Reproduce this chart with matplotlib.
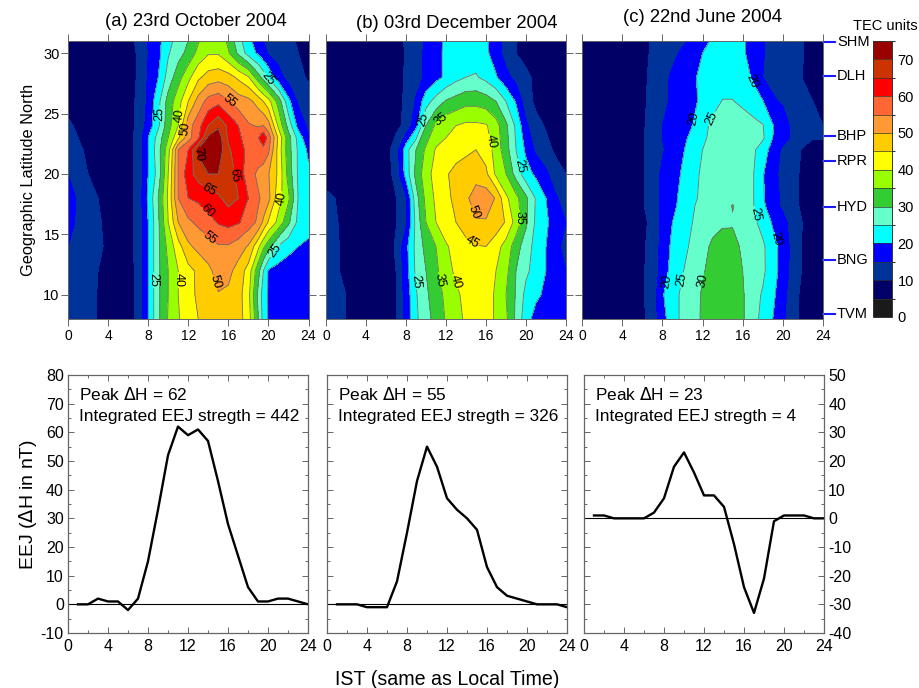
# TEC contour maps (top) and EEJ curves (bottom) for three days
import numpy as np
import matplotlib
matplotlib.use("Agg")
import matplotlib.pyplot as plt
from matplotlib.colors import ListedColormap, BoundaryNorm

plt.rcParams['font.family'] = ['Liberation Sans', 'DejaVu Sans']
plt.rcParams['axes.unicode_minus'] = False

# contour levels and colours
niveles = [0, 5, 10, 15, 20, 25, 30, 35, 40, 45, 50, 55, 60, 65, 70, 75]
colores = ['#1a1a1a', '#000066', '#003399', '#0000ff', '#00ffff', '#66ffcc', '#33cc33', '#99ff00',
           '#ffff00', '#ffcc00', '#ff9933', '#ff6633', '#ff0000', '#cc3300', '#990000']

# panel (a) 23 Oct 2004
horas_a = [0, 2, 4, 6, 7, 8, 9, 10, 11, 12, 13, 14, 15, 16, 17, 18, 19, 19.5, 20, 21, 22, 23, 24]
lat_a = [8, 10, 12, 14, 16, 18, 20, 22, 23, 24, 26, 28, 30, 31]
tec_a = [
    [13, 11.5, 8, 8, 11.2, 20, 29, 35.4, 39.6, 42.4, 45, 47, 48, 48, 47, 42.5, 30, 23, 19.5, 17.5, 17, 16.5, 16],
    [13.5, 11.5, 8, 8, 11.2, 20, 29, 35, 40, 43, 46, 48, 49.7, 49, 47, 41.5, 28.5, 22.5, 19.5, 17.5, 17, 16.5, 16],
    [14, 12, 8, 8, 11.2, 20, 29, 35, 40, 43.5, 46, 48.8, 52, 51.5, 48, 43, 31.5, 25, 19.5, 18, 17.5, 17.5, 17],
    [15, 13, 9, 8.5, 11.5, 20, 29, 36.5, 43, 49, 51.5, 53, 54.5, 54.5, 52.5, 49.5, 41, 36, 32, 24.5, 21.5, 20, 19],
    [16.5, 12, 9, 8.5, 11.5, 20, 29, 40, 50, 54, 56, 58, 60.5, 61.5, 60.5, 57.5, 54, 49, 44.5, 38.5, 31, 23.5, 22],
    [17.5, 11, 9, 8.5, 11.5, 21, 30, 41, 55, 60, 61, 62.5, 64, 67, 65, 60, 55.5, 54, 51.5, 42, 36, 24.5, 23],
    [15, 10, 9, 8.5, 11.5, 20, 27, 40, 55, 63, 67, 70, 70, 67.5, 63.5, 57, 54, 52.5, 50.3, 44, 33, 24, 21],
    [13, 9, 8.5, 8.5, 11.5, 20, 28, 38, 55, 60, 71, 74, 73, 66, 61.5, 59, 58, 58.5, 56, 43, 32, 24, 19],
    [11, 9, 8.5, 8.5, 11.5, 20, 27, 35, 44, 53, 59, 71, 73, 64, 61, 57.5, 60, 64, 58, 44, 32, 23, 15.5],
    [10.5, 8.5, 8, 8, 11, 17, 24, 33, 40, 53, 58, 65, 69, 64, 60, 55.5, 54.5, 55, 52, 39, 28, 18, 14],
    [9, 8, 8, 8, 11, 16, 23.5, 32, 38, 45, 52, 57, 58.5, 55.5, 52.5, 51.5, 48, 45, 42, 33, 21.5, 14, 12],
    [8, 8, 8, 8, 10.5, 15.5, 20, 27, 33, 38.5, 44, 47, 48, 47, 44, 40.5, 32, 28, 24, 17, 13, 11, 9.5],
    [8, 8, 8, 8, 10.5, 15, 18.5, 24.5, 28, 31.5, 36.5, 39.5, 39.5, 35.5, 29, 23, 19, 16.5, 14.5, 13, 11.5, 10, 7],
    [8, 8, 8, 8.5, 11, 15.3, 18.6, 23.3, 27, 30, 34.5, 39, 38.5, 34, 27, 21.5, 17, 15, 14.3, 13, 11, 9.5, 7],
]

# panel (b) 03 Dec 2004
horas_b = [0, 2, 4, 6, 7, 8, 9, 10, 11, 12, 13, 14, 15, 16, 17, 18, 19, 20, 21, 22, 23, 24]
lat_b = [8, 10, 12, 14, 16, 18, 20, 22, 24, 26, 28, 30, 31]
tec_b = [
    [12, 10, 8, 8, 10, 17, 24, 28.5, 31.5, 35.5, 38, 41, 42, 43, 39, 36, 29, 22, 18, 17, 16.5, 16],
    [12, 10, 8, 8, 10, 17, 24.5, 29, 33, 36, 39, 41.5, 43, 43, 39, 35, 29.5, 23.5, 21, 19, 18, 17],
    [11, 9.5, 8, 8, 10, 18, 26, 30, 34, 38, 41, 43, 44, 43, 40, 36.5, 30, 26, 23, 20, 17.5, 15],
    [11, 9.5, 8, 8, 10.5, 18.5, 26.5, 31.5, 35, 39.5, 41.5, 43.5, 44.7, 45, 42, 38, 32.5, 27, 23.5, 20, 16.5, 13],
    [11.5, 9, 8, 8, 9.8, 14, 26.5, 35, 40, 42.5, 45, 47.5, 49.5, 49.5, 48, 44.5, 38, 31, 24, 21, 17, 15],
    [11, 8.8, 8, 8, 9.8, 14.5, 28, 36.5, 41, 44, 46, 49, 52.5, 53, 49.5, 41, 36.5, 31, 24.5, 20, 15.5, 13],
    [8, 8, 8, 8, 11.5, 22, 31.5, 38, 42, 44.5, 46.5, 47.5, 48, 46, 39, 35, 28, 22, 19, 16, 12, 10],
    [8, 8, 8, 8.5, 12, 23, 30, 36, 40.5, 41.5, 43, 44, 45, 43, 38, 32, 25, 19, 14, 11.5, 9, 8],
    [8, 8, 8, 8, 9, 11, 18.5, 30, 36, 38.5, 40, 41, 41, 40.5, 37, 31, 24, 16, 11.5, 9.5, 8, 8],
    [8, 8, 8, 8, 9, 10.5, 15.5, 23, 27, 30.5, 32, 33.5, 33.5, 32.5, 30, 25, 19.5, 12, 9, 8, 8, 8],
    [8, 8, 8, 8, 9, 10.3, 13, 16, 18.5, 21, 23.5, 25, 25.5, 23.5, 20.5, 16.5, 13.5, 11, 9, 8, 8, 8],
    [8, 8, 8, 8, 9, 10.2, 13, 16, 18.5, 21, 22, 23, 22.5, 21, 17.5, 13, 10, 8.5, 8, 8, 8, 8],
    [8, 8, 8, 8, 9, 10.3, 13, 15.5, 19, 20.5, 21.5, 22, 22, 20.8, 17, 13, 10.2, 8.5, 8, 8, 8, 8],
]

# panel (c) 22 Jun 2004
horas_c = [0, 2, 4, 6, 7, 8, 9, 10, 11, 12, 13, 14, 15, 16, 17, 18, 19, 20, 21, 22, 23, 24]
lat_c = [8, 10, 12, 14, 16, 17.4, 18, 20, 22, 23, 24, 26, 28, 30, 31]
tec_c = [
    [8, 8, 8, 9, 12, 18, 23, 26, 28.5, 30.5, 31.5, 32, 31.5, 30.5, 27, 23.5, 20, 16, 11.5, 9, 8, 8],
    [8, 8, 8, 9.5, 12, 19.5, 23, 26, 28, 30.5, 31.5, 32, 31.5, 30.5, 27, 24.5, 21, 17, 11.5, 9, 8, 8],
    [8, 8, 8, 9.5, 11.5, 17, 22, 24.7, 27, 29.5, 31.5, 32.5, 31.5, 30, 28, 26, 22, 18, 13, 9.5, 8, 8],
    [8, 8, 8, 9.5, 11, 17, 21, 23.5, 26, 28.5, 30.8, 31.5, 31, 29.5, 28, 26, 21.5, 18.5, 13, 9.5, 8, 8],
    [8, 8, 8, 9, 11, 16.5, 20, 22.5, 25, 27, 28.5, 29.5, 29.7, 29, 26.5, 23, 19.5, 16.5, 13, 9.8, 8, 8],
    [8, 8, 8, 9.5, 12, 16, 19.2, 21, 24.5, 26.5, 27.5, 28, 30.2, 28, 25.5, 21, 17, 14, 11.5, 9, 8, 8],
    [8, 8, 8, 9.5, 12, 16, 19, 21, 24, 26, 27, 27.5, 28, 27.5, 25.5, 20.5, 17, 14, 11.5, 9, 8, 8],
    [8, 8, 8, 9.5, 12, 16, 18, 20.5, 24, 25.5, 27, 27, 27.5, 27, 25.5, 20.5, 16, 14, 11.5, 9, 8, 8],
    [8, 8, 8, 9.5, 11.5, 14.5, 17, 19.5, 22, 25, 26.5, 27.5, 28, 27.5, 26, 22.5, 18, 14, 12, 9.5, 8, 8],
    [8, 8, 8, 9.5, 11.5, 15, 17, 19, 21, 23.5, 27, 27.5, 28, 28, 27, 25.8, 20, 17, 14, 12, 10.3, 10.3],
    [8, 8, 8, 9.5, 11.3, 15, 17, 18.5, 20, 23.5, 26, 27, 27.5, 27.5, 26.8, 25.3, 20.3, 17, 14, 12.5, 11, 10],
    [8, 8, 8, 9.3, 11, 13.5, 16, 17.5, 19, 21, 23.5, 25.2, 25.2, 24, 22, 20.3, 15.5, 14.5, 13, 11.5, 10, 8],
    [8, 8, 8, 9, 11, 13, 16, 17.5, 19.3, 21, 22.5, 23, 23, 22, 19.5, 15, 14, 13, 12, 9.8, 8, 8],
    [8, 8, 8, 8.5, 10.7, 12, 13.5, 16, 18, 20, 21.5, 22, 22, 20.8, 18, 15.2, 14, 13, 12, 10.2, 8, 8],
    [8, 8, 8, 8.5, 10.5, 11.5, 12.5, 14, 16, 18, 20.8, 22, 22, 20.8, 18, 15.2, 14, 13, 12, 10.2, 8, 8],
]

titulos = ['(a) 23rd October 2004', '(b) 03rd December 2004', '(c) 22nd June 2004']

# stations on the right of panel (c)
estaciones = ['SHM', 'DLH', 'BHP', 'RPR', 'HYD', 'BNG', 'TVM']
lat_estaciones = [30.9, 28.1, 23.1, 21.1, 17.3, 12.9, 8.4]

# EEJ curves, hourly from 1 to 24 IST
ist = list(range(1, 25))
eej_a = [0, 0, 2, 1, 1, -2, 2, 15, 33, 52, 62, 59, 61, 57, 43, 28, 17, 6, 1, 1, 2, 2, 1, 0]
eej_b = [0, 0, 0, -1, -1, -1, 8, 25, 43, 55, 48, 37, 33, 30, 26, 13, 6, 3, 2, 1, 0, 0, 0, -1]
eej_c = [1, 1, 0, 0, 0, 0, 2, 7, 18, 23, 16, 8, 8, 4, -9, -24, -33, -21, -1, 1, 1, 1, 0, 0]
textos = [('Peak $\\Delta$H = 62', 'Integrated EEJ stregth = 442'),
          ('Peak $\\Delta$H = 55', 'Integrated EEJ stregth = 326'),
          ('Peak $\\Delta$H = 23', 'Integrated EEJ stregth = 4')]

# where the contour labels go (hour, latitude)
etiquetas_a = {25: [(9.2, 25), (19.9, 27.85), (8.6, 11.2), (20.4, 13.8)],
               40: [(11.2, 24.8), (20.9, 18), (10.9, 11.2)],
               50: [(11.9, 23.7), (14.9, 11.1)],
               55: [(16, 25.9), (14.4, 14.9)],
               60: [(13.6, 16.7)],
               65: [(14, 18.6), (16.6, 19.9)],
               70: [(12.7, 21.6)]}
etiquetas_b = {25: [(9.8, 24.5), (19.1, 20.6), (9, 11.1)],
               35: [(11.8, 24.2), (19.5, 16.4), (11.1, 11.2)],
               40: [(16.6, 22.7), (13, 11.1)],
               45: [(14.7, 14.4)],
               50: [(14.7, 16.8)]}
etiquetas_c = {20: [(17, 27.7), (11.1, 24.6), (19.3, 14.6), (8.6, 11.1)],
               25: [(12.9, 24.6), (17.3, 16.7), (10.1, 11.2)],
               30: [(12.1, 11.2)]}

ANCHO, ALTO = 919, 688
GRIS = '#666666'


def caja(x0, y0, x1, y1):
    # pixel box (y from the top) to figure fractions
    return [x0 / ANCHO, 1 - y1 / ALTO, (x1 - x0) / ANCHO, (y1 - y0) / ALTO]


fig = plt.figure(figsize=(ANCHO / 100, ALTO / 100), dpi=100)
cmap = ListedColormap(colores)
norm = BoundaryNorm(niveles, cmap.N)

cajas_mapa = [(68, 41, 308.5, 319), (326, 41, 566, 319), (582, 41, 823, 319)]
datos_mapa = [(horas_a, lat_a, tec_a, etiquetas_a), (horas_b, lat_b, tec_b, etiquetas_b),
              (horas_c, lat_c, tec_c, etiquetas_c)]
# the three titles do not sit at the same height in the original
sitio_titulo = [(196, 21), (456.5, 24), (702.5, 18)]

relleno = None
for i in range(3):
    ax = fig.add_axes(caja(*cajas_mapa[i]))
    horas, lats, tec, etiquetas = datos_mapa[i]
    relleno = ax.contourf(horas, lats, np.array(tec), levels=niveles, cmap=cmap, norm=norm)
    # one contour set per level, clabel only behaves with a single level at a time
    for nivel in niveles[4:]:
        if np.max(tec) <= nivel:
            continue
        linea = ax.contour(horas, lats, np.array(tec), levels=[nivel], colors='#707070', linewidths=0.6)
        if nivel in etiquetas:
            ax.clabel(linea, manual=etiquetas[nivel], fmt='%d', fontsize=9, inline=True,
                      inline_spacing=1, colors='black')
    ax.set_xlim(0, 24)
    ax.set_ylim(8, 31)
    ax.set_xticks(range(0, 25, 4))
    ax.set_yticks([10, 15, 20, 25, 30])
    ax.tick_params(axis='x', top=True, bottom=True, direction='out', length=5, width=0.7, color=GRIS,
                   labelsize=10, pad=2)
    ax.tick_params(axis='y', left=True, right=(i < 2), direction='out', length=5, width=0.7, color=GRIS,
                   labelsize=10.5, labelleft=(i == 0), pad=1)
    for lado in ax.spines.values():
        lado.set_linewidth(0.7)
        lado.set_color(GRIS)
    fig.text(sitio_titulo[i][0] / ANCHO, 1 - sitio_titulo[i][1] / ALTO, titulos[i], fontsize=13.3,
             ha='center', va='center')
    if i == 0:
        ax.set_ylabel('Geographic Latitude North', fontsize=11.8, labelpad=5)
    if i == 2:
        for nombre, lat in zip(estaciones, lat_estaciones):
            ax.plot([24, 25.15], [lat, lat], color='#1a1aff', lw=1.5, clip_on=False)
            ax.text(25.4, lat, nombre, fontsize=10.5, va='center', ha='left')

# colour bar
cax = fig.add_axes(caja(873, 41, 892, 317))
barra = fig.colorbar(relleno, cax=cax, ticks=list(range(0, 71, 10)), drawedges=True)
barra.ax.tick_params(length=0, labelsize=10.5, pad=4)
barra.outline.set_linewidth(0.7)
barra.outline.set_edgecolor('#333333')
barra.dividers.set_linewidth(0.5)
barra.dividers.set_color('#333333')
fig.text(885 / ANCHO, 1 - 26 / ALTO, 'TEC units', fontsize=10.5, ha='center', va='center')

# bottom row
cajas_eej = [(68, 375, 308, 633), (327, 375, 567, 633), (584, 375, 824, 633)]
series = [eej_a, eej_b, eej_c]
limites = [(-10, 80), (-10, 80), (-40, 50)]

for i in range(3):
    ax = fig.add_axes(caja(*cajas_eej[i]))
    ax.axhline(0, color='black', lw=0.8)
    ax.plot(ist, series[i], color='black', lw=1.7)
    ax.set_xlim(0, 24)
    ax.set_ylim(*limites[i])
    ax.set_xticks(range(0, 25, 4))
    ax.set_xticks(range(0, 25, 2), minor=True)
    ax.set_yticks(range(limites[i][0], limites[i][1] + 1, 10))
    ax.set_yticks(range(limites[i][0], limites[i][1] + 1, 5), minor=True)
    ax.tick_params(which='major', direction='in', top=True, right=True, length=4, width=0.7, color=GRIS,
                   labelsize=11.5, pad=4)
    ax.tick_params(which='minor', direction='in', top=True, right=True, length=2, width=0.7, color=GRIS)
    ax.tick_params(axis='y', labelleft=(i == 0), labelright=(i == 2), pad=3)
    for lado in ax.spines.values():
        lado.set_linewidth(0.9)
        lado.set_color(GRIS)
    ax.text(0.047, 0.923, textos[i][0], transform=ax.transAxes, fontsize=12.4, va='center')
    ax.text(0.047, 0.838, textos[i][1], transform=ax.transAxes, fontsize=12.4, va='center')
    if i == 0:
        ax.set_ylabel('EEJ ($\\Delta$H in nT)', fontsize=14, labelpad=1)
    if i == 1:
        ax.set_xlabel('IST (same as Local Time)', fontsize=14.1, labelpad=12)

fig.savefig('out.png', dpi=100)
